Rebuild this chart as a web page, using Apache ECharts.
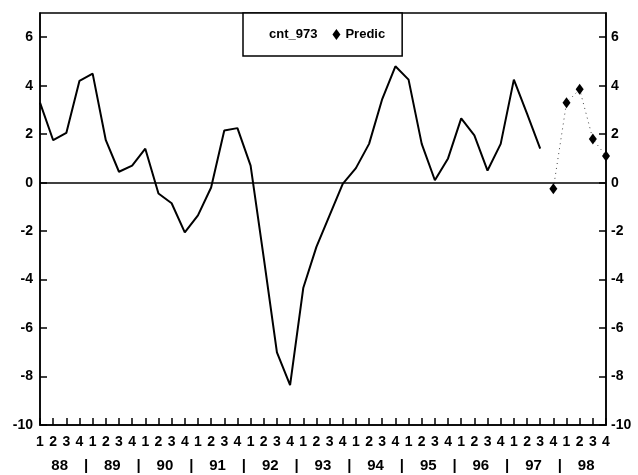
<!DOCTYPE html>
<html>
<head>
<meta charset="utf-8">
<script src="https://cdn.jsdelivr.net/npm/echarts@6/dist/echarts.min.js"></script>
<style>html,body{margin:0;padding:0;background:#fff;}#c{width:638px;height:475px;}</style>
</head>
<body>
<div id="c"></div>
<script>
// Quarters 1988Q1 .. 1998Q4
const years = ['88','89','90','91','92','93','94','95','96','97','98'];
const quarters = ['1','2','3','4'];
const categories = [];
years.forEach(y => quarters.forEach(q => categories.push(y + 'Q' + q)));

// cnt_973 actual values (88Q1 .. 97Q3)
const actualValues = [
  3.3, 1.75, 2.05, 4.2,
  4.5, 1.75, 0.45, 0.7,
  1.4, -0.45, -0.85, -2.05,
  -1.35, -0.2, 2.15, 2.25,
  0.7, -3.1, -7.0, -8.35,
  -4.35, -2.65, -1.35, -0.05,
  0.6, 1.6, 3.45, 4.8,
  4.25, 1.6, 0.1, 1.0,
  2.65, 1.95, 0.5, 1.6,
  4.25, 2.85, 1.4
];
// Predic values (97Q4 .. 98Q4)
const predicStart = 39;
const predicValues = [-0.25, 3.3, 3.85, 1.8, 1.1];

const yTicks = { min: -10, max: 7, interval: 2 };

const actualSeries = categories.map((c, i) => i < actualValues.length ? actualValues[i] : null);
const predicSeries = categories.map((c, i) => i >= predicStart ? predicValues[i - predicStart] : null);

const FONT = 'Liberation Sans, Arial, sans-serif';

const chart = echarts.init(document.getElementById('c'), null, { renderer: 'canvas' });
const yAxisBase = {
  type: 'value', min: yTicks.min, max: yTicks.max, interval: yTicks.interval,
  axisLine: { show: true, onZero: false, lineStyle: { color: '#000', width: 1.5 } },
  axisTick: { show: true, inside: true, length: 7, lineStyle: { color: '#000', width: 1.5 } },
  splitLine: { show: false },
  axisLabel: { showMaxLabel: false, color: '#000', fontFamily: FONT, fontWeight: 'bold', fontSize: 14 }
};
chart.setOption({
  animation: false,
  backgroundColor: '#fff',
  grid: { left: 40, right: 32, top: 13, bottom: 50, show: true, borderColor: '#000', borderWidth: 1.5 },
  legend: {
    left: 243, top: 13,
    padding: [15, 17, 15, 13],
    itemWidth: 8, itemHeight: 11, itemGap: 15,
    borderColor: '#000', borderWidth: 1.5, borderRadius: 0,
    backgroundColor: '#fff',
    textStyle: { color: '#000', fontFamily: FONT, fontWeight: 'bold', fontSize: 13 },
    data: [
      { name: 'cnt_973', icon: 'none' },
      { name: 'Predic', icon: 'diamond' }
    ]
  },
  xAxis: [
    {
      type: 'category', data: categories, boundaryGap: false, position: 'bottom',
      axisLine: { show: true, onZero: false, lineStyle: { color: '#000', width: 1.5 } },
      axisTick: { show: true, inside: true, length: 7, interval: 0, lineStyle: { color: '#000', width: 1.5 } },
      axisLabel: {
        interval: 0, margin: 10, color: '#000', fontFamily: FONT, fontWeight: 'bold', fontSize: 14,
        formatter: v => v.slice(-1)
      }
    },
    {
      type: 'category', data: categories, boundaryGap: false, position: 'bottom',
      axisLine: { show: false, onZero: false }, axisTick: { show: false },
      axisLabel: {
        interval: 0, margin: 33, color: '#000', fontFamily: FONT, fontWeight: 'bold', fontSize: 15,
        padding: [0, 0, 0, 13],
        formatter: (v, i) => {
          const q = v.slice(-1);
          if (q === '2') return v.slice(0, 2);
          if (q === '4' && i < categories.length - 1) return '|';
          return '';
        }
      }
    }
  ],
  yAxis: [
    Object.assign({}, yAxisBase, { position: 'left', axisLabel: Object.assign({}, yAxisBase.axisLabel, { margin: 7 }) }),
    Object.assign({}, yAxisBase, { position: 'right', axisLabel: Object.assign({}, yAxisBase.axisLabel, { margin: 5 }) })
  ],
  series: [
    {
      name: 'cnt_973', type: 'line', data: actualSeries, xAxisIndex: 0, yAxisIndex: 0,
      showSymbol: false, symbol: 'none',
      lineStyle: { color: '#000', width: 2 }, itemStyle: { color: '#000' },
      markLine: {
        silent: true, symbol: ['none', 'none'], label: { show: false },
        lineStyle: { color: '#000', width: 1.5, type: 'solid' },
        data: [{ yAxis: 0 }]
      }
    },
    {
      name: 'Predic', type: 'line', data: predicSeries, xAxisIndex: 0, yAxisIndex: 0,
      symbol: 'diamond', symbolSize: [8, 11], showSymbol: true,
      lineStyle: { color: '#444', width: 1, type: [1, 4] },
      itemStyle: { color: '#000' }
    }
  ]
});
</script>
</body>
</html>
